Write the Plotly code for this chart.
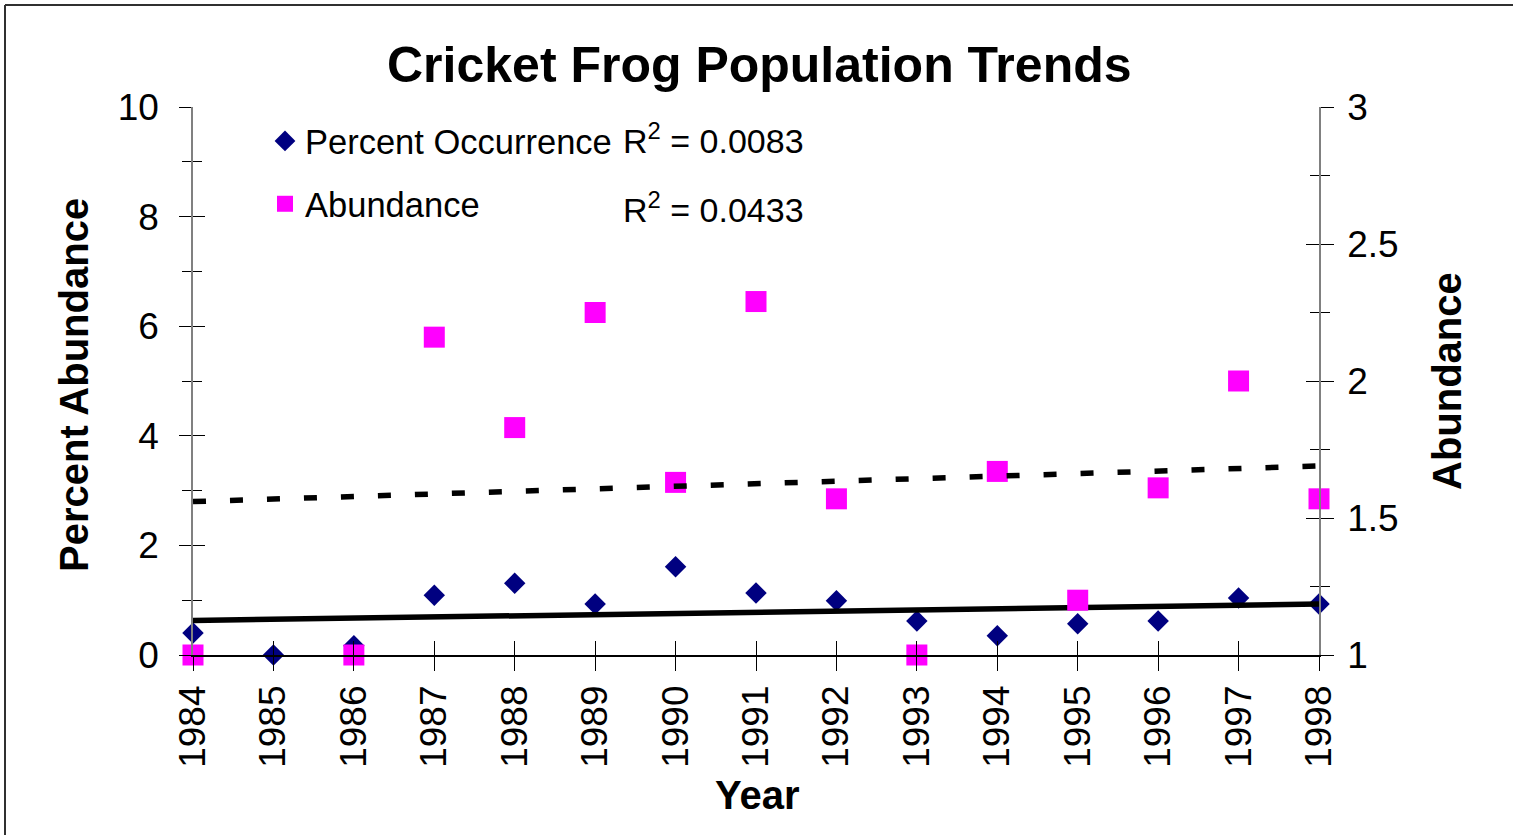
import plotly.graph_objects as go

# ---------------- data ----------------
years = [1984, 1985, 1986, 1987, 1988, 1989, 1990, 1991, 1992, 1993, 1994, 1995, 1996, 1997, 1998]
year_labels = [str(y) for y in years]

percent_occurrence = [0.40, 0.00, 0.17, 1.09, 1.31, 0.93, 1.61, 1.13, 0.99, 0.62, 0.35, 0.57, 0.62, 1.04, 0.93]
abundance = [1.00, None, 1.00, 2.16, 1.83, 2.25, 1.63, 2.29, 1.57, 1.00, 1.67, 1.20, 1.61, 2.00, 1.57]

trend_years = [1984, 1998]
trend_occurrence = [0.63, 0.93]     # linear trend, R^2 = 0.0083
trend_abundance = [1.56, 1.69]      # linear trend, R^2 = 0.0433

r2_occurrence = "0.0083"
r2_abundance = "0.0433"

left_ticks = [0, 2, 4, 6, 8, 10]
right_ticks = [1, 1.5, 2, 2.5, 3]
right_tick_text = ["1", "1.5", "2", "2.5", "3"]

# ---------------- layout geometry (pixels) ----------------
W, H = 1513, 835
x0, x1 = 193, 1319
y_top, y_bot = 107, 655


def px(x):
    return x / W


def py(y):
    return 1 - y / H


FONT = "Arial, Liberation Sans, sans-serif"

fig = go.Figure()

fig.add_trace(go.Scatter(
    x=years, y=percent_occurrence, mode="markers", name="Percent Occurrence",
    marker=dict(symbol="diamond", size=16.5, color="#000080"),
    cliponaxis=False, legendgroup="a", xaxis="x", yaxis="y",
))
fig.add_trace(go.Scatter(
    x=years, y=abundance, mode="markers", name="Abundance",
    marker=dict(symbol="square", size=21, color="#FF00FF"),
    cliponaxis=False, legendgroup="b", xaxis="x", yaxis="y2",
))
fig.add_trace(go.Scatter(
    x=trend_years, y=trend_occurrence, mode="lines", showlegend=False,
    line=dict(color="black", width=5.5), cliponaxis=False, xaxis="x", yaxis="y",
))
fig.add_trace(go.Scatter(
    x=trend_years, y=trend_abundance, mode="lines", showlegend=False,
    line=dict(color="black", width=5.5, dash="13px,24px"), cliponaxis=False,
    xaxis="x", yaxis="y2",
))

tickfont = dict(family=FONT, size=37, color="black")
xdom = [px(x0), px(x1)]
ydom = [py(y_bot), py(y_top)]

common = dict(showgrid=False, zeroline=False, automargin=False)

fig.update_layout(
    template="none",
    width=W, height=H, autosize=False,
    margin=dict(l=0, r=0, t=0, b=0, pad=0, autoexpand=False),
    paper_bgcolor="white", plot_bgcolor="white",
    showlegend=True,
    legend=dict(
        x=px(265), y=py(112), xanchor="left", yanchor="top",
        font=dict(family=FONT, size=34.5, color="black"),
        bgcolor="rgba(0,0,0,0)", borderwidth=0,
        traceorder="grouped", tracegroupgap=15, itemsizing="trace",
    ),
    xaxis=dict(
        domain=xdom, range=[1984, 1998], anchor="y",
        tickmode="array", tickvals=years, ticktext=year_labels,
        tickangle=-90, tickfont=tickfont,
        ticks="outside", ticklen=14, tickwidth=1, tickcolor="black",
        ticklabelstandoff=0,
        showline=True, linecolor="black", linewidth=1.5, **common,
    ),
    xaxis2=dict(
        domain=xdom, range=[1984, 1998], anchor="y", overlaying="x",
        tickmode="array", tickvals=years, showticklabels=False,
        ticks="inside", ticklen=14, tickwidth=1, tickcolor="black",
        showline=False, **common,
    ),
    yaxis=dict(
        domain=ydom, range=[0, 10], anchor="x",
        tickmode="array", tickvals=left_ticks, tickfont=tickfont,
        ticks="outside", ticklen=12, tickwidth=1, tickcolor="black",
        minor=dict(dtick=1, ticks="outside", ticklen=9, tickwidth=1, tickcolor="black", showgrid=False),
        ticklabelstandoff=13,
        showline=True, linecolor="#808080", linewidth=1.5, **common,
    ),
    yaxis3=dict(
        domain=ydom, range=[0, 10], anchor="x", overlaying="y",
        tickmode="array", tickvals=left_ticks, showticklabels=False,
        ticks="inside", ticklen=12, tickwidth=1, tickcolor="black",
        minor=dict(dtick=1, ticks="inside", ticklen=9, tickwidth=1, tickcolor="black", showgrid=False),
        showline=False, **common,
    ),
    yaxis2=dict(
        domain=ydom, range=[1, 3], anchor="x", overlaying="y", side="right",
        tickmode="array", tickvals=right_ticks, ticktext=right_tick_text, tickfont=tickfont,
        ticks="outside", ticklen=13, tickwidth=1, tickcolor="black",
        minor=dict(dtick=0.25, ticks="outside", ticklen=9, tickwidth=1, tickcolor="black", showgrid=False),
        ticklabelstandoff=6,
        showline=True, linecolor="#808080", linewidth=1.5, **common,
    ),
    yaxis4=dict(
        domain=ydom, range=[1, 3], anchor="x", overlaying="y", side="right",
        tickmode="array", tickvals=right_ticks, showticklabels=False,
        ticks="inside", ticklen=13, tickwidth=1, tickcolor="black",
        minor=dict(dtick=0.25, ticks="inside", ticklen=9, tickwidth=1, tickcolor="black", showgrid=False),
        showline=False, **common,
    ),
)

# invisible traces so the overlay (inside-tick) axes get drawn
fig.add_trace(go.Scatter(x=[None], y=[None], xaxis="x2", yaxis="y3", showlegend=False, hoverinfo="skip"))
fig.add_trace(go.Scatter(x=[None], y=[None], xaxis="x", yaxis="y4", showlegend=False, hoverinfo="skip"))

annotations = [
    dict(text="<b>Cricket Frog Population Trends</b>", x=px(760), y=py(65),
         font=dict(family=FONT, size=50, color="black")),
    dict(text="<b>Year</b>", x=px(757), y=py(795),
         font=dict(family=FONT, size=40, color="black")),
    dict(text="<b>Percent Abundance</b>", x=px(74), y=py(385), textangle=-90,
         font=dict(family=FONT, size=40, color="black")),
    dict(text="<b>Abundance</b>", x=px(1447), y=py(381), textangle=-90,
         font=dict(family=FONT, size=40, color="black")),
    dict(text="R<sup>2</sup> = " + r2_occurrence, x=px(621), y=py(139), xanchor="left",
         font=dict(family=FONT, size=34, color="black")),
    dict(text="R<sup>2</sup> = " + r2_abundance, x=px(621), y=py(207), xanchor="left",
         font=dict(family=FONT, size=34, color="black")),
]
for a in annotations:
    a.setdefault("xanchor", "center")
    a.update(xref="paper", yref="paper", yanchor="middle", showarrow=False)
fig.update_layout(annotations=annotations)

# outer chart border (only left and top edges are visible in the reference)
fig.add_shape(type="line", xref="paper", yref="paper", x0=px(5), x1=px(5), y0=py(5), y1=0,
              line=dict(color="#303030", width=2))
fig.add_shape(type="line", xref="paper", yref="paper", x0=px(5), x1=1, y0=py(5), y1=py(5),
              line=dict(color="#303030", width=2))

page_css = (
    "document.documentElement.style.margin='0';"
    "document.documentElement.style.padding='0';"
    "document.documentElement.style.overflow='hidden';"
    "document.body.style.margin='0';"
    "document.body.style.padding='0';"
    "document.body.style.overflow='hidden';"
)
fig.write_html("out.html", post_script=page_css, config={"displayModeBar": False})
